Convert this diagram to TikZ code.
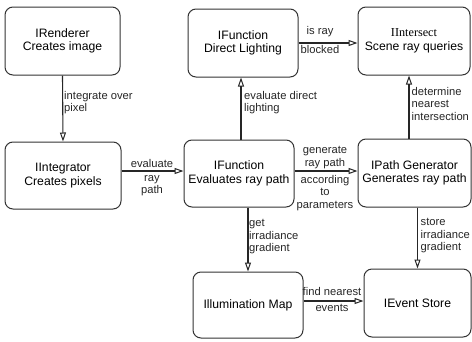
\documentclass[tikz,border=0pt]{standalone}
\usepackage{fontspec}
\setmainfont{Liberation Sans}
\newfontfamily\serifface{Liberation Serif}
\usetikzlibrary{arrows.meta,calc}
\begin{document}
\begin{tikzpicture}[x=1pt,y=-1pt,
  box/.style={draw=black!80,line width=1pt,rounded corners=8pt,align=center,
    font=\fontsize{12.2}{13.5}\selectfont,inner sep=0pt},
  flow/.style={draw=black!85,line width=1.1pt,-{Triangle[open,length=9pt,width=6pt,line width=1pt]}},
  lbl/.style={font=\fontsize{11.2}{12.6}\selectfont,inner sep=0pt,text=black!85},
  lblL/.style={lbl,align=left,anchor=north west},
  lblC/.style={lbl,align=center}]
\useasboundingbox (0,0) rectangle (472,341);
% components
\node[box,minimum width=115pt,minimum height=68pt] (rend) at (62.5,41) {IRenderer\\Creates image};
\node[box,minimum width=116pt,minimum height=67pt] (integ) at (63,175.5) {IIntegrator\\Creates pixels};
\node[box,minimum width=110pt,minimum height=68pt] (direct) at (243,43) {IFunction\\Direct Lighting};
\node[box,minimum width=112pt,minimum height=68pt] (inter) at (414,41) {{\serifface IIntersect}\\Scene ray queries};
\node[box,minimum width=110pt,minimum height=67pt] (func) at (239,173.5) {IFunction\\Evaluates ray path};
\node[box,minimum width=113pt,minimum height=68pt] (pathg) at (414.5,173) {IPath Generator\\Generates ray path};
\node[box,minimum width=110pt,minimum height=66pt] (illum) at (248,305) {Illumination Map};
\node[box,minimum width=107pt,minimum height=68pt] (event) at (417.5,303) {IEvent Store};
% connector end points offset from the box centres
\coordinate (integOut) at ([yshift=4.5pt]integ.east);
\coordinate (funcUp) at ([xshift=2pt]func.north);
\coordinate (funcOut) at ([yshift=2.5pt]func.east);
\coordinate (pathUp) at ([xshift=-5.5pt]pathg.north);
\coordinate (illumOut) at ([yshift=4pt]illum.east);
% connectors
\draw[flow] (rend.south) -- (integ.north);
\draw[flow] (integOut) -- (func.west |- integOut);
\draw[flow] (funcUp) -- (funcUp |- direct.south);
\draw[flow] (direct.east) -- (inter.west |- direct.east);
\draw[flow] (funcOut) -- (pathg.west |- funcOut);
\draw[flow] (pathUp) -- (pathUp |- inter.south);
\draw[flow] (func.south -| illum.north) -- (illum.north);
\draw[flow] (pathg.south -| event.north) -- (event.north);
\draw[flow] (illumOut) -- (event.west |- illumOut);
% labels
\node[lblL] (l1) at (64,91) {integrate over\\pixel};
\node[lblC,anchor=south] (l2a) at (152,168) {evaluate};
\node[lblC,anchor=north] (l2b) at (152,175) {ray\\path};
\node[lblC,anchor=south] (l3a) at (320,37.5) {is ray};
\node[lblC,anchor=north] (l3b) at (320,45) {blocked};
\node[lblL] (l4) at (244,91) {evaluate direct\\lighting};
\node[lblL] (l5) at (411.5,87) {determine\\nearest\\intersection};
\node[lblC,anchor=south] (l6a) at (325,169) {generate\\ray path};
\node[lblC,anchor=north] (l6b) at (325,175) {according\\to\\parameters};
\node[lblL] (l7) at (249,219) {get\\irradiance\\gradient};
\node[lblL] (l8) at (420.5,218) {store\\irradiance\\gradient};
\node[lblC,anchor=south] (l9a) at (332,296) {find nearest};
\node[lblC,anchor=north] (l9b) at (332,304) {events};
\end{tikzpicture}
\end{document}
